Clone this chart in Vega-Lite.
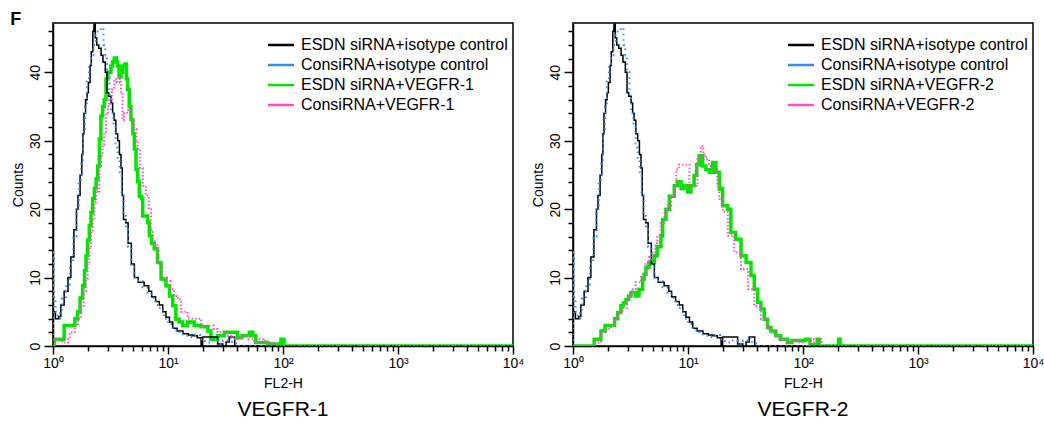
{
  "$schema": "https://vega.github.io/schema/vega-lite/v6.json",
  "background": "white",
  "padding": {"left": 10, "top": 11, "right": 10, "bottom": 5},
  "title": {"text": "F", "anchor": "start", "frame": "bounds", "fontSize": 18, "fontWeight": "bold", "offset": -7, "color": "black", "font": "Liberation Sans"},
  "datasets": {
    "k": [{"x":1,"y":0},{"x":1,"y":5},{"x":1.05,"y":4},{"x":1.12,"y":4.3},{"x":1.17,"y":6},{"x":1.25,"y":8},{"x":1.35,"y":10},{"x":1.43,"y":13},{"x":1.52,"y":17},{"x":1.6,"y":20},{"x":1.65,"y":22},{"x":1.72,"y":25},{"x":1.78,"y":28},{"x":1.82,"y":31},{"x":1.86,"y":34},{"x":1.92,"y":36},{"x":1.98,"y":37},{"x":2.03,"y":38.5},{"x":2.1,"y":41},{"x":2.15,"y":43},{"x":2.22,"y":46},{"x":2.27,"y":47},{"x":2.33,"y":45},{"x":2.4,"y":44},{"x":2.5,"y":43.5},{"x":2.62,"y":42.5},{"x":2.72,"y":41.5},{"x":2.85,"y":40},{"x":2.95,"y":37},{"x":3.05,"y":36.5},{"x":3.2,"y":35.5},{"x":3.3,"y":34},{"x":3.4,"y":33},{"x":3.52,"y":31},{"x":3.65,"y":30},{"x":3.78,"y":28},{"x":3.9,"y":26},{"x":4.0,"y":22},{"x":4.1,"y":18.5},{"x":4.3,"y":18},{"x":4.5,"y":15},{"x":4.8,"y":12},{"x":5.1,"y":10},{"x":5.5,"y":9.3},{"x":6.2,"y":8.8},{"x":6.8,"y":8},{"x":7.2,"y":7.2},{"x":7.8,"y":6.5},{"x":8.4,"y":6},{"x":9.0,"y":5},{"x":9.6,"y":4.2},{"x":10.3,"y":3.5},{"x":11,"y":2.6},{"x":12,"y":2.2},{"x":13.5,"y":1.8},{"x":15,"y":1.6},{"x":16.5,"y":1.5},{"x":18,"y":1.2},{"x":19.4,"y":0},{"x":20,"y":1.3},{"x":27,"y":0.3},{"x":30,"y":0},{"x":32,"y":0.6},{"x":34,"y":1.3},{"x":38,"y":0},{"x":10000,"y":0}],
    "b": [{"x":1,"y":0},{"x":1,"y":14},{"x":1.02,"y":7},{"x":1.05,"y":5},{"x":1.1,"y":4},{"x":1.15,"y":5},{"x":1.2,"y":7},{"x":1.3,"y":9},{"x":1.4,"y":12},{"x":1.5,"y":16},{"x":1.6,"y":20},{"x":1.68,"y":24},{"x":1.75,"y":27},{"x":1.82,"y":31},{"x":1.9,"y":35},{"x":1.97,"y":39},{"x":2.05,"y":41},{"x":2.15,"y":42.5},{"x":2.25,"y":44},{"x":2.35,"y":45.5},{"x":2.45,"y":46},{"x":2.6,"y":46.5},{"x":2.75,"y":44},{"x":2.85,"y":42.5},{"x":2.95,"y":40},{"x":3.1,"y":36.5},{"x":3.2,"y":34},{"x":3.35,"y":32},{"x":3.5,"y":29},{"x":3.65,"y":27},{"x":3.8,"y":25},{"x":3.95,"y":22},{"x":4.1,"y":19},{"x":4.3,"y":17},{"x":4.5,"y":14.5},{"x":4.8,"y":11.5},{"x":5.1,"y":10},{"x":5.5,"y":9.5},{"x":6,"y":8.6},{"x":6.6,"y":7.8},{"x":7.2,"y":7},{"x":7.8,"y":6},{"x":8.5,"y":5.2},{"x":9.2,"y":4},{"x":10,"y":3.2},{"x":11,"y":2.3},{"x":12,"y":2},{"x":13.5,"y":1.5},{"x":15,"y":1.3},{"x":17,"y":1.6},{"x":19,"y":1},{"x":21,"y":0.5},{"x":24,"y":0.8},{"x":27,"y":0.3},{"x":30,"y":0.8},{"x":33,"y":1.2},{"x":36,"y":0.4},{"x":40,"y":0},{"x":10000,"y":0}],
    "g1": [{"x":1,"y":0},{"x":1.03,"y":1},{"x":1.25,"y":3},{"x":1.45,"y":3},{"x":1.55,"y":4},{"x":1.64,"y":5},{"x":1.72,"y":7},{"x":1.81,"y":8.8},{"x":1.88,"y":11},{"x":1.94,"y":13.2},{"x":2.0,"y":15.5},{"x":2.07,"y":17.6},{"x":2.14,"y":19.5},{"x":2.21,"y":21.5},{"x":2.29,"y":23},{"x":2.37,"y":24.4},{"x":2.45,"y":26.3},{"x":2.53,"y":30.2},{"x":2.61,"y":33.6},{"x":2.7,"y":35},{"x":2.79,"y":36},{"x":2.89,"y":39},{"x":3.0,"y":40},{"x":3.19,"y":40.9},{"x":3.3,"y":41.5},{"x":3.41,"y":42.1},{"x":3.55,"y":41.5},{"x":3.65,"y":40.9},{"x":3.75,"y":39.3},{"x":3.9,"y":40},{"x":4.03,"y":40.9},{"x":4.22,"y":41.2},{"x":4.35,"y":39},{"x":4.46,"y":37.5},{"x":4.6,"y":35},{"x":4.76,"y":33.1},{"x":4.95,"y":31},{"x":5.1,"y":28.8},{"x":5.27,"y":25.8},{"x":5.45,"y":24},{"x":5.63,"y":21.9},{"x":5.9,"y":21.5},{"x":6.03,"y":19},{"x":6.65,"y":18},{"x":6.88,"y":16.1},{"x":7.2,"y":15},{"x":7.6,"y":14.2},{"x":8.1,"y":12.2},{"x":8.7,"y":9.8},{"x":9.6,"y":8.8},{"x":10.3,"y":7.3},{"x":11,"y":5.9},{"x":11.7,"y":3.9},{"x":12.5,"y":3.5},{"x":13.4,"y":3},{"x":14.8,"y":3.5},{"x":16.9,"y":3},{"x":19.4,"y":2.8},{"x":22.2,"y":2.2},{"x":23.6,"y":1},{"x":27,"y":1.5},{"x":30.9,"y":2},{"x":37.7,"y":2},{"x":40.3,"y":1.2},{"x":44,"y":1.5},{"x":51,"y":2},{"x":54.6,"y":1.5},{"x":58,"y":0.5},{"x":73.6,"y":0.3},{"x":90,"y":0},{"x":96,"y":1},{"x":102,"y":0},{"x":10000,"y":0}],
    "m1": [{"x":1,"y":0},{"x":1.03,"y":1},{"x":1.2,"y":0.5},{"x":1.35,"y":1},{"x":1.4,"y":2},{"x":1.55,"y":3},{"x":1.65,"y":4},{"x":1.75,"y":5.9},{"x":1.85,"y":8},{"x":1.94,"y":9.8},{"x":2.0,"y":12},{"x":2.07,"y":14.2},{"x":2.14,"y":16.5},{"x":2.21,"y":18.5},{"x":2.29,"y":21},{"x":2.37,"y":22.9},{"x":2.45,"y":22.4},{"x":2.53,"y":26.3},{"x":2.61,"y":27.8},{"x":2.7,"y":29.5},{"x":2.79,"y":31.2},{"x":2.89,"y":34.1},{"x":3.0,"y":35},{"x":3.09,"y":36},{"x":3.25,"y":37.5},{"x":3.41,"y":39},{"x":3.6,"y":38.5},{"x":3.77,"y":39},{"x":3.9,"y":37},{"x":4.03,"y":33},{"x":4.15,"y":34},{"x":4.31,"y":34.1},{"x":4.5,"y":34.5},{"x":4.76,"y":34},{"x":4.9,"y":32.5},{"x":5.1,"y":31.7},{"x":5.3,"y":30},{"x":5.45,"y":28.8},{"x":5.7,"y":26},{"x":6.03,"y":23.4},{"x":6.4,"y":22},{"x":6.8,"y":20},{"x":7.1,"y":17},{"x":7.4,"y":15.5},{"x":7.6,"y":14.7},{"x":8.1,"y":12},{"x":8.9,"y":10},{"x":9.8,"y":9.5},{"x":10.5,"y":8.3},{"x":11.3,"y":7.3},{"x":12.2,"y":6.8},{"x":13,"y":5},{"x":14.3,"y":5},{"x":14.8,"y":4},{"x":19.4,"y":3},{"x":23.6,"y":3},{"x":25,"y":2.5},{"x":27,"y":2},{"x":32,"y":1.5},{"x":37,"y":1},{"x":43,"y":1.5},{"x":50,"y":1},{"x":56,"y":0.5},{"x":62,"y":1},{"x":70,"y":0.5},{"x":80,"y":0.5},{"x":85,"y":0},{"x":10000,"y":0}],
    "g2": [{"x":1,"y":0},{"x":1.53,"y":0},{"x":1.53,"y":1},{"x":1.64,"y":1},{"x":1.75,"y":2.2},{"x":1.9,"y":3},{"x":2.2,"y":3},{"x":2.3,"y":4},{"x":2.45,"y":4.9},{"x":2.61,"y":5.9},{"x":2.75,"y":6.3},{"x":2.89,"y":6.8},{"x":3.05,"y":7.3},{"x":3.19,"y":7.8},{"x":3.5,"y":7.3},{"x":3.75,"y":8.3},{"x":4.03,"y":9.8},{"x":4.15,"y":10.5},{"x":4.31,"y":11.5},{"x":4.58,"y":12.2},{"x":5.1,"y":13.2},{"x":5.4,"y":14.5},{"x":5.82,"y":16.1},{"x":6.03,"y":18.5},{"x":6.43,"y":20},{"x":6.88,"y":21.9},{"x":7.6,"y":23.4},{"x":8.1,"y":24},{"x":8.7,"y":23},{"x":9.23,"y":23.4},{"x":9.95,"y":22.5},{"x":10.6,"y":23.4},{"x":11.3,"y":24.9},{"x":11.9,"y":26.5},{"x":12.5,"y":27.8},{"x":13.4,"y":26.3},{"x":14.3,"y":25.8},{"x":15.3,"y":25.4},{"x":16.4,"y":26.8},{"x":17.5,"y":25.4},{"x":18.7,"y":22.9},{"x":19.4,"y":23},{"x":20,"y":20.5},{"x":22.2,"y":20},{"x":23.6,"y":16.6},{"x":26,"y":15.6},{"x":28.9,"y":13.2},{"x":32,"y":12.2},{"x":35.3,"y":10.3},{"x":37.7,"y":8.3},{"x":40.3,"y":6.4},{"x":43.1,"y":5.4},{"x":46,"y":3.9},{"x":49.2,"y":2.7},{"x":52.6,"y":2.2},{"x":58,"y":1.5},{"x":64,"y":1},{"x":73.6,"y":0.5},{"x":80,"y":0.8},{"x":96,"y":0.8},{"x":105,"y":1},{"x":115,"y":0.2},{"x":130,"y":0},{"x":133,"y":1},{"x":138,"y":0},{"x":200,"y":0},{"x":204,"y":1},{"x":210,"y":0},{"x":10000,"y":0}],
    "m2": [{"x":1,"y":0},{"x":1.56,"y":0},{"x":1.56,"y":0.5},{"x":1.75,"y":2},{"x":1.95,"y":2.5},{"x":2.15,"y":3},{"x":2.3,"y":4},{"x":2.45,"y":4.9},{"x":2.7,"y":5.5},{"x":2.95,"y":6.8},{"x":3.1,"y":7.5},{"x":3.3,"y":8.3},{"x":3.5,"y":9.3},{"x":3.9,"y":10.3},{"x":4.3,"y":12.2},{"x":4.6,"y":13},{"x":4.9,"y":13.7},{"x":5.2,"y":15},{"x":5.4,"y":16.1},{"x":5.8,"y":18},{"x":6.25,"y":19.6},{"x":6.65,"y":20.5},{"x":7.1,"y":21.9},{"x":7.6,"y":23.4},{"x":7.9,"y":25.8},{"x":8.3,"y":26.5},{"x":8.7,"y":26.5},{"x":9.6,"y":26.5},{"x":10.3,"y":23.4},{"x":11.3,"y":23.4},{"x":12.1,"y":27.3},{"x":12.9,"y":29.2},{"x":13.6,"y":28},{"x":14.3,"y":27.3},{"x":15.3,"y":26.3},{"x":16.4,"y":25.8},{"x":18,"y":23.4},{"x":18.7,"y":21.5},{"x":20,"y":19.6},{"x":22.2,"y":16.1},{"x":25.2,"y":13.7},{"x":28.9,"y":11.2},{"x":33.3,"y":8.3},{"x":37.7,"y":5.9},{"x":43,"y":3.9},{"x":49,"y":2.5},{"x":56,"y":1.5},{"x":62,"y":1},{"x":70,"y":0.5},{"x":80,"y":0.8},{"x":90,"y":0.5},{"x":100,"y":0},{"x":115,"y":1},{"x":125,"y":0.5},{"x":140,"y":1},{"x":145,"y":0},{"x":10000,"y":0}]
  },
  "hconcat": [
    {
      "width": 460, "height": 323,
      "title": {"text": "VEGFR-1", "orient": "bottom", "anchor": "middle", "fontSize": 21, "fontWeight": "normal", "offset": 9, "color": "black"},
      "encoding": {
        "x": {"field": "x", "type": "quantitative", "scale": {"type": "log", "domain": [1, 10000], "nice": false},
          "axis": {"values": [1,2,3,4,5,6,7,8,9,10,20,30,40,50,60,70,80,90,100,200,300,400,500,600,700,800,900,1000,2000,3000,4000,5000,6000,7000,8000,9000,10000],
            "labelExpr": "abs(log(datum.value)/LN10 - round(log(datum.value)/LN10)) < 0.001 ? '10' + ['⁰','¹','²','³','⁴'][round(log(datum.value)/LN10)] : ''",
            "tickSize": {"condition": {"test": "abs(log(datum.value)/LN10 - round(log(datum.value)/LN10)) < 0.001", "value": 8}, "value": 5},
            "title": "FL2-H"}},
        "y": {"field": "y", "type": "quantitative", "scale": {"domain": [0, 47.2], "nice": false},
          "axis": {"values": [0,2,4,6,8,10,12,14,16,18,20,22,24,26,28,30,32,34,36,38,40,42,44,46],
            "labelExpr": "datum.value % 10 === 0 ? datum.label : ''",
            "tickSize": {"condition": {"test": "datum.value % 10 === 0", "value": 9}, "value": 5},
            "labelAngle": 270, "title": "Counts"}}
      },
      "layer": [
        {"data": {"name": "g1"}, "mark": {"type": "line", "interpolate": "step-after", "strokeWidth": 3.5, "clip": true},
          "encoding": {"color": {"datum": "ESDN siRNA+VEGFR-1",
            "scale": {"domain": ["ESDN siRNA+isotype control", "ConsiRNA+isotype control", "ESDN siRNA+VEGFR-1", "ConsiRNA+VEGFR-1"], "range": ["#000000", "#2f8cf0", "#00e400", "#ff4fc8"]},
            "legend": {"orient": "none", "legendX": 220, "legendY": 14, "title": null}}}},
        {"data": {"name": "k"}, "mark": {"type": "line", "interpolate": "step-after", "strokeWidth": 1.5, "clip": true},
          "encoding": {"color": {"datum": "ESDN siRNA+isotype control"}}},
        {"data": {"name": "m1"}, "mark": {"type": "line", "interpolate": "step-after", "strokeWidth": 2, "strokeDash": [1.5, 2], "clip": true},
          "encoding": {"color": {"datum": "ConsiRNA+VEGFR-1"}}},
        {"data": {"name": "b"}, "mark": {"type": "line", "interpolate": "step-after", "strokeWidth": 2, "strokeDash": [1.5, 4], "clip": true},
          "encoding": {"color": {"datum": "ConsiRNA+isotype control"}}}
      ]
    },
    {
      "width": 460, "height": 323,
      "title": {"text": "VEGFR-2", "orient": "bottom", "anchor": "middle", "fontSize": 21, "fontWeight": "normal", "offset": 9, "color": "black"},
      "encoding": {
        "x": {"field": "x", "type": "quantitative", "scale": {"type": "log", "domain": [1, 10000], "nice": false},
          "axis": {"values": [1,2,3,4,5,6,7,8,9,10,20,30,40,50,60,70,80,90,100,200,300,400,500,600,700,800,900,1000,2000,3000,4000,5000,6000,7000,8000,9000,10000],
            "labelExpr": "abs(log(datum.value)/LN10 - round(log(datum.value)/LN10)) < 0.001 ? '10' + ['⁰','¹','²','³','⁴'][round(log(datum.value)/LN10)] : ''",
            "tickSize": {"condition": {"test": "abs(log(datum.value)/LN10 - round(log(datum.value)/LN10)) < 0.001", "value": 8}, "value": 5},
            "title": "FL2-H"}},
        "y": {"field": "y", "type": "quantitative", "scale": {"domain": [0, 47.2], "nice": false},
          "axis": {"values": [0,2,4,6,8,10,12,14,16,18,20,22,24,26,28,30,32,34,36,38,40,42,44,46],
            "labelExpr": "datum.value % 10 === 0 ? datum.label : ''",
            "tickSize": {"condition": {"test": "datum.value % 10 === 0", "value": 9}, "value": 5},
            "labelAngle": 270, "title": "Counts"}}
      },
      "layer": [
        {"data": {"name": "g2"}, "mark": {"type": "line", "interpolate": "step-after", "strokeWidth": 3.5, "clip": true},
          "encoding": {"color": {"datum": "ESDN siRNA+VEGFR-2",
            "scale": {"domain": ["ESDN siRNA+isotype control", "ConsiRNA+isotype control", "ESDN siRNA+VEGFR-2", "ConsiRNA+VEGFR-2"], "range": ["#000000", "#2f8cf0", "#00e400", "#ff4fc8"]},
            "legend": {"orient": "none", "legendX": 220, "legendY": 14, "title": null}}}},
        {"data": {"name": "k"}, "mark": {"type": "line", "interpolate": "step-after", "strokeWidth": 1.5, "clip": true},
          "encoding": {"color": {"datum": "ESDN siRNA+isotype control"}}},
        {"data": {"name": "m2"}, "mark": {"type": "line", "interpolate": "step-after", "strokeWidth": 2, "strokeDash": [1.5, 2], "clip": true},
          "encoding": {"color": {"datum": "ConsiRNA+VEGFR-2"}}},
        {"data": {"name": "b"}, "mark": {"type": "line", "interpolate": "step-after", "strokeWidth": 2, "strokeDash": [1.5, 4], "clip": true},
          "encoding": {"color": {"datum": "ConsiRNA+isotype control"}}}
      ]
    }
  ],
  "spacing": 60,
  "bounds": "flush",
  "resolve": {"scale": {"color": "independent"}},
  "config": {
    "font": "Liberation Sans",
    "view": {"stroke": "black", "strokeWidth": 1.5},
    "axis": {"grid": false, "domainColor": "black", "domainWidth": 1.5, "tickColor": "black", "tickWidth": 1.5,
      "labelColor": "black", "labelFontSize": 14, "labelPadding": 2, "labelFlush": false, "labelOverlap": false,
      "titleColor": "black", "titleFontSize": 14, "titleFontWeight": "normal", "titlePadding": 3},
    "axisX": {"titlePadding": 6},
    "legend": {"labelFontSize": 16, "labelColor": "black", "labelLimit": 0, "symbolType": "M-2,0H2", "symbolSize": 169, "symbolStrokeWidth": 2.5, "labelOffset": 12, "rowPadding": 4, "padding": 0}
  }
}
